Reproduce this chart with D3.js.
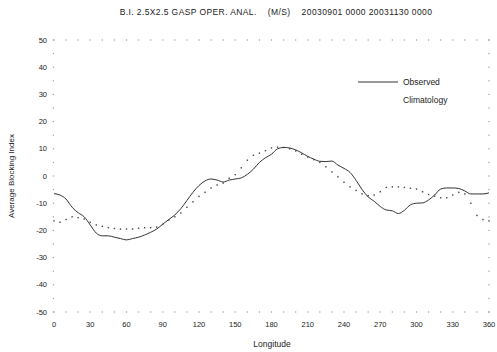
<!DOCTYPE html>
<html><head><meta charset="utf-8">
<script src="https://cdn.jsdelivr.net/npm/d3@7"></script>
<style>body{margin:0;background:#fff}svg{display:block}text{font-family:"Liberation Sans",Arial,sans-serif;fill:#222}</style>
</head><body><svg id="c" width="497" height="352"></svg>
<script>
const longitudes = d3.range(0, 361, 5);
const observed = [-6.5,-7,-8.5,-11.5,-13.5,-15,-18,-21,-22,-22,-22.5,-23,-23.5,-23,-22.5,-21.7,-20.7,-19.5,-17.7,-16,-14.3,-12,-9,-6,-3.5,-1.8,-1.1,-1.5,-2.2,-1.5,-1.1,-0.7,0.6,2.5,5,6.7,8,10,10.5,10.3,9.6,8.5,7.2,6.2,5.4,5.3,5.5,4,2.8,1.3,-1.6,-5,-7.7,-9.3,-11.2,-12.5,-12.8,-13.8,-12.6,-10.6,-10,-9.9,-8.8,-7,-4.8,-4.4,-4.4,-4.6,-5.5,-6.6,-6.6,-6.6,-6.2];
const climatology = [-16.5,-17,-16,-15,-15.3,-15.8,-17,-18,-18.5,-19,-19.3,-19.5,-19.5,-19.5,-19.2,-19,-19,-18.8,-17.8,-16.2,-15,-13.6,-11.5,-9.5,-7.5,-6,-4.4,-3.3,-2.6,-0.8,0.5,3,5.8,7.6,8.4,9.3,10.3,10.6,10.5,10,9.2,8,7,6,5,3.4,1.5,-0.3,-2.3,-4,-5.3,-6.6,-7.2,-7,-5.8,-4.2,-4,-4,-4.2,-4.5,-4.8,-5.8,-6.8,-7.4,-8,-8,-7,-6,-6.6,-10,-14.5,-16,-16.5];
const xTicks = d3.range(0, 361, 30);
const yTicks = d3.range(-50, 51, 10);
const title = "B.I. 2.5X2.5 GASP OPER. ANAL.    (M/S)    20030901 0000 20031130 0000";
const xLabel = "Longitude";
const yLabel = "Average Blocking Index";
const legendLabels = ["Observed", "Climatology"];

const svg = d3.select("#c");
const x = d3.scaleLinear().domain([0, 360]).range([54, 489]);
const y = d3.scaleLinear().domain([-50, 50]).range([312, 40]);

// dotted frame
const frame = svg.append("g").attr("fill", "#999");
d3.range(0, 361, 10).forEach(v => {
  frame.append("rect").attr("x", x(v) - 0.6).attr("y", y(50) - 0.6).attr("width", 1.2).attr("height", 1.2);
  frame.append("rect").attr("x", x(v) - 0.6).attr("y", y(-50) - 0.6).attr("width", 1.2).attr("height", 1.2);
});
d3.range(-50, 51, 5).forEach(v => {
  frame.append("rect").attr("x", x(0) - 1.2).attr("y", y(v) - 0.6).attr("width", 1.2).attr("height", 1.2);
  frame.append("rect").attr("x", x(360) - 0.6).attr("y", y(v) - 0.6).attr("width", 1.2).attr("height", 1.2);
});

// axes labels
svg.append("g").selectAll("text").data(yTicks).join("text")
  .attr("x", 47).attr("y", d => y(d)).attr("dy", "0.35em")
  .attr("text-anchor", "end").attr("font-size", 7.5).text(d => d);
svg.append("g").selectAll("text").data(xTicks).join("text")
  .attr("x", d => x(d)).attr("y", 327)
  .attr("text-anchor", "middle").attr("font-size", 7.5).text(d => d);

svg.append("text").attr("x", 272).attr("y", 347).attr("text-anchor", "middle")
  .attr("font-size", 8.5).text(xLabel);
svg.append("text").attr("transform", "translate(14,176) rotate(-90)")
  .attr("text-anchor", "middle").attr("font-size", 8).text(yLabel);
svg.append("text").attr("x", 276).attr("y", 15).attr("text-anchor", "middle")
  .attr("font-size", 8.5).attr("letter-spacing", 0.4).attr("xml:space", "preserve").style("white-space", "pre").text(title);

// observed line
const data = longitudes.map((lon, i) => ({lon, obs: observed[i], clim: climatology[i]}));
svg.append("path").datum(data)
  .attr("fill", "none").attr("stroke", "#333").attr("stroke-width", 1)
  .attr("d", d3.line().x(d => x(d.lon)).y(d => y(d.obs)).curve(d3.curveMonotoneX));

// climatology dots
svg.append("g").attr("fill", "#444").selectAll("rect").data(data).join("rect")
  .attr("x", d => x(d.lon) - 0.7).attr("y", d => y(d.clim) - 0.7)
  .attr("width", 1.4).attr("height", 1.4);

// legend
svg.append("line").attr("x1", 358).attr("x2", 398).attr("y1", 82).attr("y2", 82)
  .attr("stroke", "#333").attr("stroke-width", 1);
svg.append("text").attr("x", 403).attr("y", 82).attr("dy", "0.35em").attr("font-size", 8.5).text(legendLabels[0]);
svg.append("text").attr("x", 403).attr("y", 100).attr("dy", "0.35em").attr("font-size", 8.5).text(legendLabels[1]);
</script></body></html>
